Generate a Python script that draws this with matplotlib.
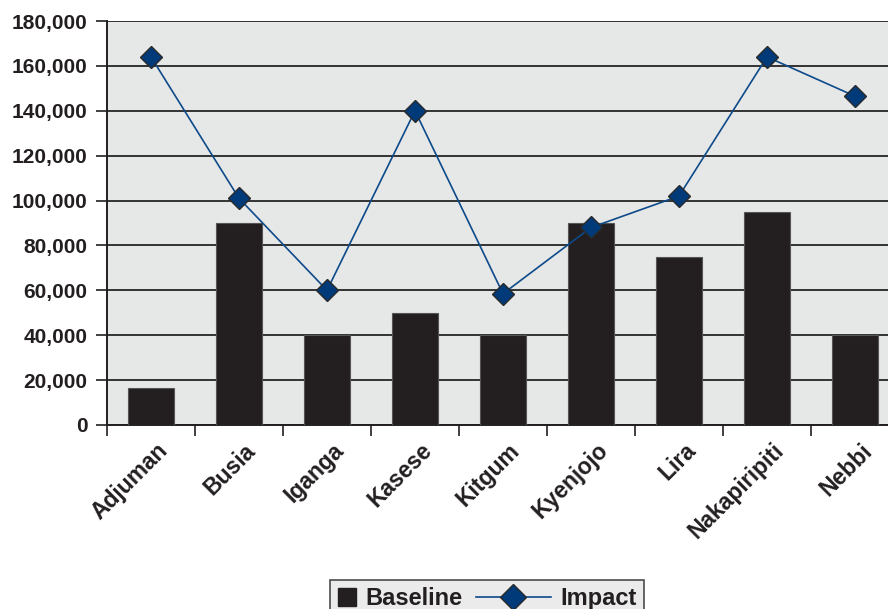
import matplotlib
matplotlib.use("Agg")
import matplotlib.pyplot as plt
from matplotlib.ticker import FuncFormatter, FixedLocator
from matplotlib.lines import Line2D
from matplotlib.patches import Rectangle
from matplotlib.legend_handler import HandlerBase
import numpy as np

districts = ["Adjuman", "Busia", "Iganga", "Kasese", "Kitgum",
             "Kyenjojo", "Lira", "Nakapiripiti", "Nebbi"]
baseline = [16500, 90000, 40000, 50000, 40000, 90000, 75000, 95000, 40000]
impact = [164000, 101000, 60000, 140000, 58500, 88000, 102000, 164000, 146500]

plt.rcParams['font.family'] = ['Liberation Sans', 'DejaVu Sans']
plt.rcParams['font.weight'] = 'bold'

dark = '#231f20'
line_col = '#0d4a8a'
marker_col = '#003a78'


class SquareHandler(HandlerBase):
    # small filled square, right-aligned in the handle box
    def create_artists(self, legend, orig, xdescent, ydescent, width, height,
                       fontsize, trans):
        s = 13
        r = Rectangle((width - s - xdescent, -ydescent + (height - s) / 2), s, s,
                      facecolor=dark, edgecolor=dark, transform=trans)
        return [r]


class LongLineHandler(HandlerBase):
    # line + diamond that reaches further left than the handle box
    def create_artists(self, legend, orig, xdescent, ydescent, width, height,
                       fontsize, trans):
        x0 = -xdescent - 2.4 * fontsize
        x1 = width - xdescent
        y = height / 2 - ydescent
        ln = Line2D([x0, x1], [y, y], color=line_col, linewidth=1.2,
                    transform=trans)
        mk = Line2D([(x0 + x1) / 2], [y], linestyle='none', marker='D',
                    markersize=13, markerfacecolor=marker_col,
                    markeredgecolor='#2a2a2a', transform=trans)
        return [ln, mk]


fig = plt.figure(figsize=(8.88, 6.09), dpi=100)
# plot area runs a little past the right edge of the figure
ax = fig.add_axes([107 / 888, 1 - 425 / 609, 792 / 888, 404 / 609])
ax.set_facecolor('#e6e7e7')

x = np.arange(len(districts))
bars = ax.bar(x, baseline, width=0.52, color=dark, edgecolor='#555555',
              linewidth=0.8, zorder=3)
line, = ax.plot(x, impact, color=line_col, linewidth=1.2, marker='D',
                markersize=11, markerfacecolor=marker_col,
                markeredgecolor='#2a2a2a', markeredgewidth=1.0, zorder=4)

ax.set_xlim(-0.5, len(districts) - 0.5)
ax.set_ylim(0, 180000)
ax.set_yticks(np.arange(0, 180001, 20000))
ax.yaxis.set_major_formatter(FuncFormatter(lambda v, p: f"{int(v):,}"))
ax.grid(axis='y', color='#333333', linewidth=1.4, zorder=1)

# category boundaries carry the tick marks, centres carry the names
ax.xaxis.set_major_locator(FixedLocator(np.arange(-0.5, len(districts), 1.0)))
ax.xaxis.set_minor_locator(FixedLocator(x + 0.06))
ax.set_xticklabels([], minor=False)
ax.set_xticklabels(districts, minor=True, rotation=45, ha='right',
                   rotation_mode='anchor', fontsize=16.5, fontweight='bold',
                   color=dark)
ax.tick_params(axis='x', which='major', length=8, width=1.2, color=dark,
               direction='out')
ax.tick_params(axis='x', which='minor', length=0, pad=10)
ax.tick_params(axis='y', length=8, width=1.2, color=dark, pad=6,
               labelsize=15, labelcolor=dark)
for lbl in ax.get_yticklabels():
    lbl.set_fontweight('bold')

for side in ['top', 'right']:
    ax.spines[side].set_visible(False)
for side in ['left', 'bottom']:
    ax.spines[side].set_color(dark)
    ax.spines[side].set_linewidth(1.4)

leg = fig.legend([bars, line], ['Baseline', 'Impact'], loc='upper left',
                 bbox_to_anchor=(330 / 888, 1 - 580 / 609), ncol=2,
                 handler_map={bars: SquareHandler(), line: LongLineHandler()},
                 frameon=True, fancybox=False, fontsize=17,
                 handlelength=0.8, columnspacing=2.95, handletextpad=0.4,
                 borderpad=0.3, borderaxespad=0)
leg.get_frame().set_facecolor('#e6e7e7')
leg.get_frame().set_edgecolor(dark)
leg.get_frame().set_linewidth(1.2)
for t in leg.get_texts():
    t.set_fontweight('bold')
    t.set_color(dark)

fig.savefig('out.png', dpi=100)
